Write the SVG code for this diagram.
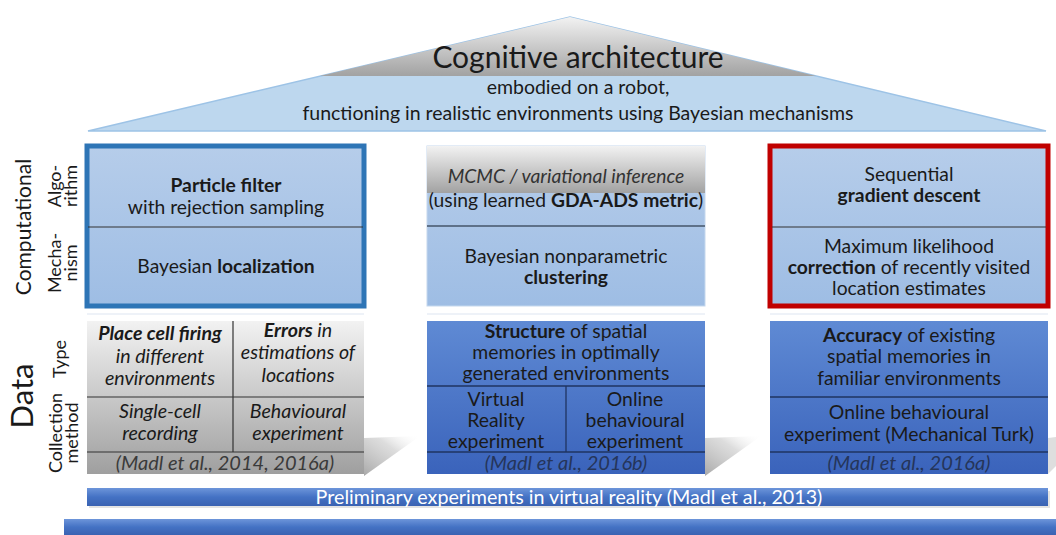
<svg xmlns="http://www.w3.org/2000/svg" width="1056" height="535" viewBox="0 0 1056 535">
<defs>
<linearGradient id="gGray" x1="0" y1="0" x2="0" y2="1"><stop offset="0" stop-color="#f2f2f2"/><stop offset="1" stop-color="#a2a2a2"/></linearGradient>
<linearGradient id="gLB" x1="0" y1="0" x2="0" y2="1"><stop offset="0" stop-color="#b6cdea"/><stop offset="1" stop-color="#9ebde4"/></linearGradient>
<linearGradient id="gTblGray" x1="0" y1="0" x2="0" y2="1"><stop offset="0" stop-color="#f2f2f2"/><stop offset="1" stop-color="#9f9f9f"/></linearGradient>
<linearGradient id="gTblBlue" x1="0" y1="0" x2="0" y2="1"><stop offset="0" stop-color="#5f8ad4"/><stop offset="1" stop-color="#3a63bb"/></linearGradient>
<linearGradient id="gBar" x1="0" y1="0" x2="0" y2="1"><stop offset="0" stop-color="#6d95da"/><stop offset="0.5" stop-color="#4472c4"/><stop offset="1" stop-color="#3a62b2"/></linearGradient>
<linearGradient id="gShadow" x1="0" y1="1" x2="1" y2="0"><stop offset="0" stop-color="#999" stop-opacity="0.85"/><stop offset="0.6" stop-color="#bbb" stop-opacity="0.5"/><stop offset="1" stop-color="#fff" stop-opacity="0"/></linearGradient>
<style>
text{font-family:Lato,"Liberation Sans",sans-serif;fill:#1a1a1a;text-anchor:middle}
.t19{font-size:19.3px}
.tb{font-size:19.4px}
.ti{font-size:19.6px;font-style:italic}
.b{font-weight:bold}
.i{font-style:italic}
.sl{font-size:18px}
.cite{font-size:20px;font-style:italic;fill:#3a3a3a}
.citeb{font-size:20px;font-style:italic;fill:#25355a}
.div{stroke:#333;stroke-width:1.2}
.divb{stroke:#1f3460;stroke-width:1.3}
</style>
</defs>
<rect width="1056" height="535" fill="#fff"/>

<g id="roof">
<polygon points="88,131 570,17 1046,131" fill="#bdd7ee" stroke="#9dc3e6" stroke-width="1.5"/>
<polygon points="570,17 320,76 816,76" fill="url(#gGray)"/>
<text x="578" y="68" style="font-size:30px">Cognitive architecture</text>
<text x="578" y="94" style="font-size:19.5px">embodied on a robot,</text>
<text x="578" y="120" style="font-size:19.5px">functioning in realistic environments using Bayesian mechanisms</text>
</g>

<g id="side-labels">
<text transform="translate(31,227) rotate(-90)" style="font-size:21px">Computational</text>
<text class="sl" transform="translate(61,186) rotate(-90)">Algo-</text>
<text class="sl" transform="translate(77,186) rotate(-90)">rithm</text>
<text class="sl" transform="translate(61,263) rotate(-90)">Mecha-</text>
<text class="sl" transform="translate(77,263) rotate(-90)">nism</text>
<text transform="translate(33,396) rotate(-90)" style="font-size:31px">Data</text>
<text class="sl" transform="translate(66,359) rotate(-90)">Type</text>
<text class="sl" transform="translate(62,433) rotate(-90)">Collection</text>
<text class="sl" transform="translate(78,433) rotate(-90)">method</text>
</g>

<g id="faint-lines" fill="#eef2f8">
<rect x="87" y="313" width="277" height="2"/>
<rect x="427" y="313" width="278" height="2"/>
<rect x="770" y="313" width="278" height="2"/>
</g>

<g id="comp-left">
<rect x="87" y="146" width="277" height="160" fill="url(#gLB)" stroke="#2e75b6" stroke-width="5"/>
<line x1="88" y1="227" x2="363" y2="227" class="div"/>
<text x="226" y="192" class="t19 b">Particle filter</text>
<text x="226" y="214" class="t19">with rejection sampling</text>
<text x="226" y="273" class="t19">Bayesian <tspan class="b">localization</tspan></text>
</g>

<g id="comp-mid">
<rect x="427" y="146" width="278" height="160" fill="url(#gLB)" stroke="#c5d8ee" stroke-width="1"/>
<rect x="427" y="146" width="278" height="47" fill="url(#gGray)"/>
<line x1="427" y1="226" x2="705" y2="226" stroke="#44546a" stroke-width="1.5"/>
<text x="566" y="183" class="t19 i" style="fill:#333">MCMC / variational inference</text>
<text x="566" y="207" class="t19">(using learned <tspan class="b">GDA-ADS metric</tspan>)</text>
<text x="566" y="263" class="t19">Bayesian nonparametric</text>
<text x="566" y="284" class="t19 b">clustering</text>
</g>

<g id="comp-right">
<rect x="770" y="146" width="278" height="160" fill="url(#gLB)" stroke="#c00000" stroke-width="5"/>
<line x1="772" y1="227" x2="1046" y2="227" class="div"/>
<text x="909" y="181" class="t19">Sequential</text>
<text x="909" y="202" class="t19 b">gradient descent</text>
<text x="909" y="253" class="t19">Maximum likelihood</text>
<text x="909" y="274" class="t19"><tspan class="b">correction</tspan> of recently visited</text>
<text x="909" y="295" class="t19">location estimates</text>
</g>

<g id="shadows">
<polygon points="364,438 420,436 364,476" fill="url(#gShadow)"/>
<polygon points="705,438 761,436 705,476" fill="url(#gShadow)"/>
<polygon points="1048,438 1056,437 1056,466 1048,474" fill="#c8c8c8" opacity="0.6"/>
</g>

<g id="data-left">
<rect x="87" y="321" width="277" height="153" fill="url(#gTblGray)"/>
<line x1="87" y1="397" x2="364" y2="397" class="div"/>
<line x1="87" y1="452" x2="364" y2="452" class="div"/>
<line x1="233" y1="321" x2="233" y2="452" class="div"/>
<text class="ti"><tspan x="160" y="340" class="b">Place cell firing</tspan><tspan x="160" y="362.5">in different</tspan><tspan x="160" y="385">environments</tspan></text>
<text class="ti"><tspan x="298" y="336.5"><tspan class="b">Errors</tspan> in</tspan><tspan x="298" y="359">estimations of</tspan><tspan x="298" y="381.5">locations</tspan></text>
<text class="ti"><tspan x="160" y="418">Single-cell</tspan><tspan x="160" y="440">recording</tspan></text>
<text class="ti"><tspan x="298" y="418">Behavioural</tspan><tspan x="298" y="440">experiment</tspan></text>
<text x="225" y="470" class="cite">(Madl et al., 2014, 2016a)</text>
</g>

<g id="data-mid">
<rect x="427" y="321" width="278" height="153" fill="url(#gTblBlue)"/>
<line x1="427" y1="386" x2="705" y2="386" class="divb"/>
<line x1="427" y1="452" x2="705" y2="452" class="divb"/>
<line x1="566" y1="386" x2="566" y2="452" class="divb"/>
<text x="566" y="338" class="tb"><tspan class="b">Structure</tspan> of spatial</text>
<text x="566" y="359" class="tb">memories in optimally</text>
<text x="566" y="380" class="tb">generated environments</text>
<text x="496" y="406" class="tb">Virtual</text>
<text x="496" y="427" class="tb">Reality</text>
<text x="496" y="448" class="tb">experiment</text>
<text x="635" y="406" class="tb">Online</text>
<text x="635" y="427" class="tb">behavioural</text>
<text x="635" y="448" class="tb">experiment</text>
<text x="566" y="470" class="citeb">(Madl et al., 2016b)</text>
</g>

<g id="data-right">
<rect x="770" y="321" width="278" height="153" fill="url(#gTblBlue)"/>
<line x1="770" y1="397" x2="1048" y2="397" class="divb"/>
<line x1="770" y1="452" x2="1048" y2="452" class="divb"/>
<text x="909" y="342" class="tb"><tspan class="b">Accuracy</tspan> of existing</text>
<text x="909" y="363" class="tb">spatial memories in</text>
<text x="909" y="385" class="tb">familiar environments</text>
<text x="909" y="419" class="tb">Online behavioural</text>
<text x="909" y="441" class="tb">experiment (Mechanical Turk)</text>
<text x="909" y="470" class="citeb">(Madl et al., 2016a)</text>
</g>

<g id="bar-prelim">
<rect x="89" y="491" width="961" height="17" fill="#c8c8c8" opacity="0.5"/>
<rect x="87" y="488" width="961" height="18" fill="url(#gBar)"/>
<text x="569" y="503.5" style="font-size:19.7px;fill:#fff">Preliminary experiments in virtual reality (Madl et al., 2013)</text>
</g>

<g id="bar-base">
<rect x="64" y="519" width="992" height="16" fill="url(#gBar)"/>
</g>
</svg>
